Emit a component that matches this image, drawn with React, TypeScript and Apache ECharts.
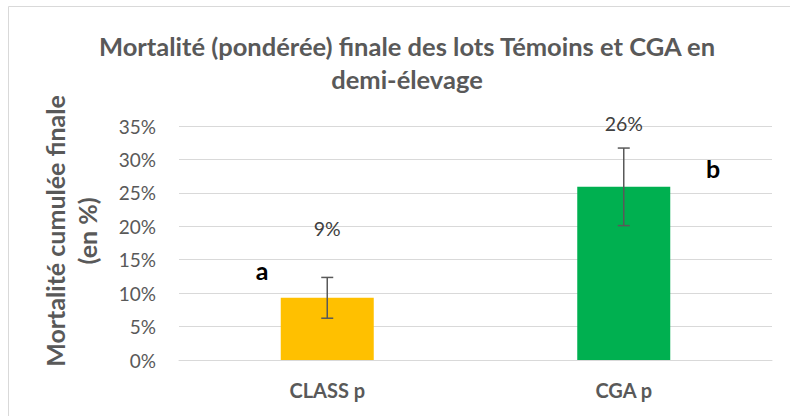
import React, { useEffect, useRef } from "react";
import * as echarts from "echarts";

const categories = ["CLASS p", "CGA p"];
const values = [9.3, 25.9];
const errors = [3.05, 5.8];
const valueLabels = ["9%", "26%"];
const letters = ["a", "b"];
const colors = ["#FFC000", "#00B050"];
const yTicks = { min: 0, max: 35, interval: 5 };

const FONT = "Lato, 'Open Sans', sans-serif";

export default function App() {
  const ref = useRef<HTMLDivElement>(null);
  useEffect(() => {
    if (!ref.current) return;
    const chart = echarts.init(ref.current, undefined, { renderer: "svg" });
    const labelDistances = [59, 53];
    chart.setOption({
      animation: false,
      textStyle: { fontFamily: FONT },
      title: {
        text: "Mortalité (pondérée) finale des lots Témoins et CGA en\ndemi-élevage",
        left: 402,
        textAlign: "center",
        top: 24,
        textStyle: { fontSize: 25.5, fontWeight: "bold", color: "#595959", lineHeight: 33, fontFamily: FONT },
      },
      grid: { left: 179, right: 18, top: 126, bottom: 56, containLabel: false },
      xAxis: {
        type: "category",
        data: categories,
        axisLine: { lineStyle: { color: "#d9d9d9" } },
        axisTick: { show: false },
        axisLabel: { color: "#595959", fontSize: 20, fontWeight: "bold", margin: 20, fontFamily: FONT },
      },
      yAxis: {
        type: "value",
        min: yTicks.min,
        max: yTicks.max,
        interval: yTicks.interval,
        axisLine: { show: false },
        axisTick: { show: false },
        splitLine: { lineStyle: { color: "#d9d9d9", width: 1 } },
        axisLabel: { formatter: "{value}%", color: "#595959", fontSize: 19, margin: 23, fontFamily: FONT },
      },
      graphic: [
        {
          type: "rect",
          shape: { x: 8.5, y: 6.5, width: 800, height: 420 },
          style: { fill: "none", stroke: "#d9d9d9", lineWidth: 1 },
          silent: true,
        },
        {
          type: "text",
          x: 71,
          y: 231,
          rotation: Math.PI / 2,
          style: {
            text: "Mortalité cumulée finale\n(en %)",
            align: "center",
            verticalAlign: "middle",
            fontSize: 25,
            fontWeight: "bold",
            fill: "#595959",
            lineHeight: 32,
            fontFamily: FONT,
          },
        },
        {
          type: "text",
          x: 262,
          y: 270,
          style: { text: letters[0], align: "center", verticalAlign: "middle", fontSize: 25, fontWeight: "bold", fill: "#000", fontFamily: FONT },
        },
        {
          type: "text",
          x: 713,
          y: 168,
          style: { text: letters[1], align: "center", verticalAlign: "middle", fontSize: 25, fontWeight: "bold", fill: "#000", fontFamily: FONT },
        },
      ],
      series: [
        {
          type: "bar",
          barWidth: 93,
          data: values.map((v, i) => ({
            value: v,
            itemStyle: { color: colors[i] },
            label: {
              show: true,
              position: "top",
              distance: labelDistances[i],
              formatter: valueLabels[i],
              color: "#404040",
              fontSize: 19.5,
              fontFamily: FONT,
            },
          })),
        },
        {
          type: "custom",
          data: values.map((v, i) => [i, v - errors[i], v + errors[i]]),
          renderItem: (params: any, api: any) => {
            const x = api.value(0);
            const lo = api.coord([x, api.value(1)]);
            const hi = api.coord([x, api.value(2)]);
            const cap = 6;
            const style = { stroke: "#595959", lineWidth: 1.5 };
            return {
              type: "group",
              children: [
                { type: "line", shape: { x1: hi[0], y1: hi[1], x2: lo[0], y2: lo[1] }, style },
                { type: "line", shape: { x1: hi[0] - cap, y1: hi[1], x2: hi[0] + cap, y2: hi[1] }, style },
                { type: "line", shape: { x1: lo[0] - cap, y1: lo[1], x2: lo[0] + cap, y2: lo[1] }, style },
              ],
            };
          },
          z: 5,
        },
      ],
    });
    return () => chart.dispose();
  }, []);
  return <div ref={ref} style={{ width: 790, height: 416, position: "absolute", left: 0, top: 0 }} />;
}
